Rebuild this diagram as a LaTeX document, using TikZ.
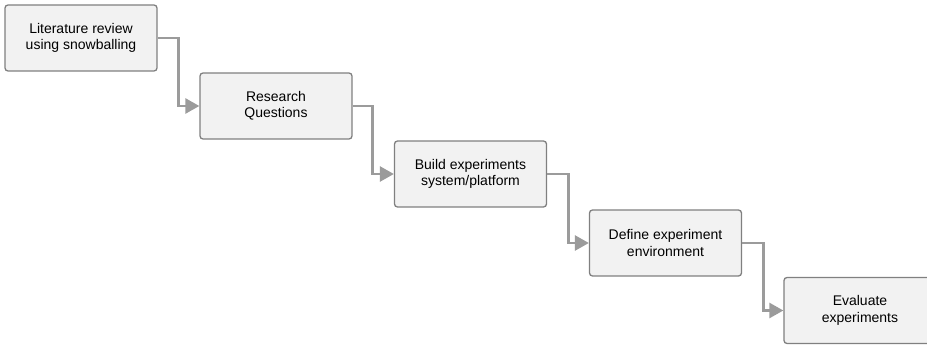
\documentclass[tikz,border=0pt]{standalone}
\usepackage{fontspec}
\setmainfont{Liberation Sans}
\usetikzlibrary{arrows.meta}
\definecolor{boxfill}{HTML}{F2F2F2}
\definecolor{boxline}{HTML}{808080}
\definecolor{connline}{HTML}{9B9B9B}
\begin{document}
\begin{tikzpicture}[x=1pt,y=-1pt,
  stepbox/.style={draw=boxline, line width=1.3pt, fill=boxfill, rounded corners=3pt,
    minimum width=152pt, minimum height=66pt, align=center, inner sep=0pt,
    font=\fontsize{14pt}{16.5pt}\selectfont},
  conn/.style={draw=connline, line width=2.7pt,
    -{Triangle[length=14pt,width=15pt]}}]
  \useasboundingbox (0,0) rectangle (927,345);
  \begin{scope}
    \clip (0,0) rectangle (927,345);
    \node[stepbox] (b1) at (81,38) {Literature review\\using snowballing};
    \node[stepbox] (b2) at (276,106) {Research\\Questions};
    \node[stepbox] (b3) at (470.5,174) {Build experiments\\system/platform};
    \node[stepbox] (b4) at (665.5,243) {Define experiment\\environment};
    \node[stepbox] (b5) at (860,310.5) {Evaluate\\experiments};
    \draw[conn] (b1.east) -- ++(21,0) |- (b2.west);
    \draw[conn] (b2.east) -- ++(20,0) |- (b3.west);
    \draw[conn] (b3.east) -- ++(21,0) |- (b4.west);
    \draw[conn] (b4.east) -- ++(21,0) |- (b5.west);
  \end{scope}
\end{tikzpicture}
\end{document}
